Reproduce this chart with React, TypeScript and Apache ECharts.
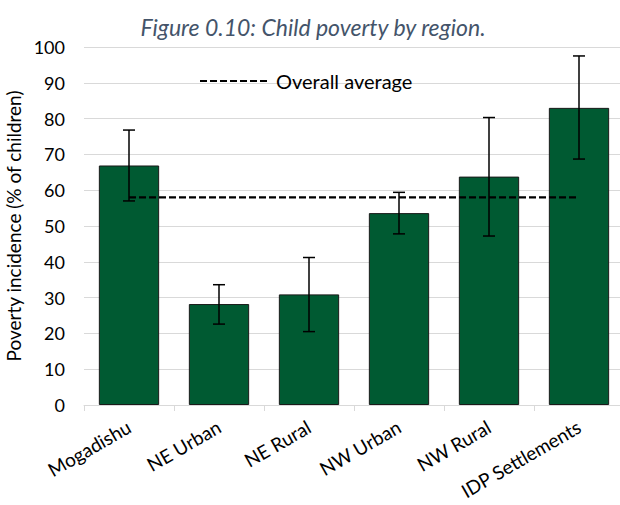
import React, { useEffect, useRef } from "react";
import * as echarts from "echarts";

const categories = ["Mogadishu", "NE Urban", "NE Rural", "NW Urban", "NW Rural", "IDP Settlements"];
const povertyRate = [66.9, 28.2, 30.9, 53.6, 63.8, 83.0];
const ciLow = [57.0, 22.6, 20.5, 47.8, 47.2, 68.7];
const ciHigh = [76.8, 33.6, 41.2, 59.4, 80.3, 97.5];
const overallAverage = [58, 58, 58, 58, 58, 58];
const yTicks = { min: 0, max: 100, interval: 10 };

const FONT = "Lato, 'Open Sans', sans-serif";

export default function App() {
  const ref = useRef<HTMLDivElement>(null);
  useEffect(() => {
    if (!ref.current) return;
    const chart = echarts.init(ref.current, null, { renderer: "svg" });
    const errData = categories.map((_, i) => [i, ciLow[i], ciHigh[i]]);
    chart.setOption({
      animation: false,
      title: {
        text: "Figure 0.10: Child poverty by region.",
        left: 308,
        textAlign: "center",
        top: 10,
        textStyle: { fontFamily: FONT, fontStyle: "italic", fontWeight: "normal", fontSize: 23, color: "#44546A" },
      },
      legend: {
        data: ["Overall average"],
        left: 194,
        top: 66,
        itemWidth: 68,
        itemHeight: 14,
        itemStyle: { opacity: 0 },
        textStyle: { fontFamily: FONT, fontSize: 20, color: "#000", padding: [0, 0, 0, 3] },
      },
      grid: { left: 84, top: 47, bottom: 100, right: -4, containLabel: false, outerBoundsMode: "none" },
      xAxis: {
        type: "category",
        data: categories,
        axisLine: { lineStyle: { color: "#d9d9d9", width: 1 } },
        axisTick: { show: true, length: 6, lineStyle: { color: "#d9d9d9" } },
        axisLabel: { rotate: 30, margin: 20, fontFamily: FONT, fontSize: 19, color: "#000" },
      },
      yAxis: {
        type: "value",
        min: yTicks.min,
        max: yTicks.max,
        interval: yTicks.interval,
        name: "Poverty incidence (% of children)",
        nameLocation: "middle",
        nameGap: 52,
        nameTextStyle: { fontFamily: FONT, fontSize: 19, color: "#000" },
        axisLine: { show: false },
        axisTick: { show: false },
        axisLabel: { margin: 19, fontFamily: FONT, fontSize: 18, color: "#000" },
        splitLine: { lineStyle: { color: "#d9d9d9", width: 1 } },
      },
      series: [
        {
          type: "bar",
          name: "Poverty rate",
          data: povertyRate,
          barCategoryGap: "33%",
          itemStyle: { color: "#005A32", borderColor: "#1a1a1a", borderWidth: 1 },
          z: 2,
        },
        {
          type: "custom",
          name: "CI",
          data: errData,
          z: 4,
          renderItem: (params: any, api: any) => {
            const x = api.value(0);
            const lo = api.coord([x, api.value(1)]);
            const hi = api.coord([x, api.value(2)]);
            const hw = 6;
            const style = { stroke: "#000", lineWidth: 1.5 };
            return {
              type: "group",
              children: [
                { type: "line", shape: { x1: lo[0], y1: lo[1], x2: hi[0], y2: hi[1] }, style },
                { type: "line", shape: { x1: hi[0] - hw, y1: hi[1], x2: hi[0] + hw, y2: hi[1] }, style },
                { type: "line", shape: { x1: lo[0] - hw, y1: lo[1], x2: lo[0] + hw, y2: lo[1] }, style },
              ],
            };
          },
        },
        {
          type: "line",
          name: "Overall average",
          data: overallAverage,
          symbol: "none",
          z: 5,
          lineStyle: { color: "#000", width: 2.2, type: [7, 3] },
          itemStyle: { color: "#000" },
        },
      ],
    });
    return () => chart.dispose();
  }, []);
  return <div ref={ref} style={{ position: "fixed", left: 0, top: 0, width: 620, height: 505, background: "#fff" }} />;
}
